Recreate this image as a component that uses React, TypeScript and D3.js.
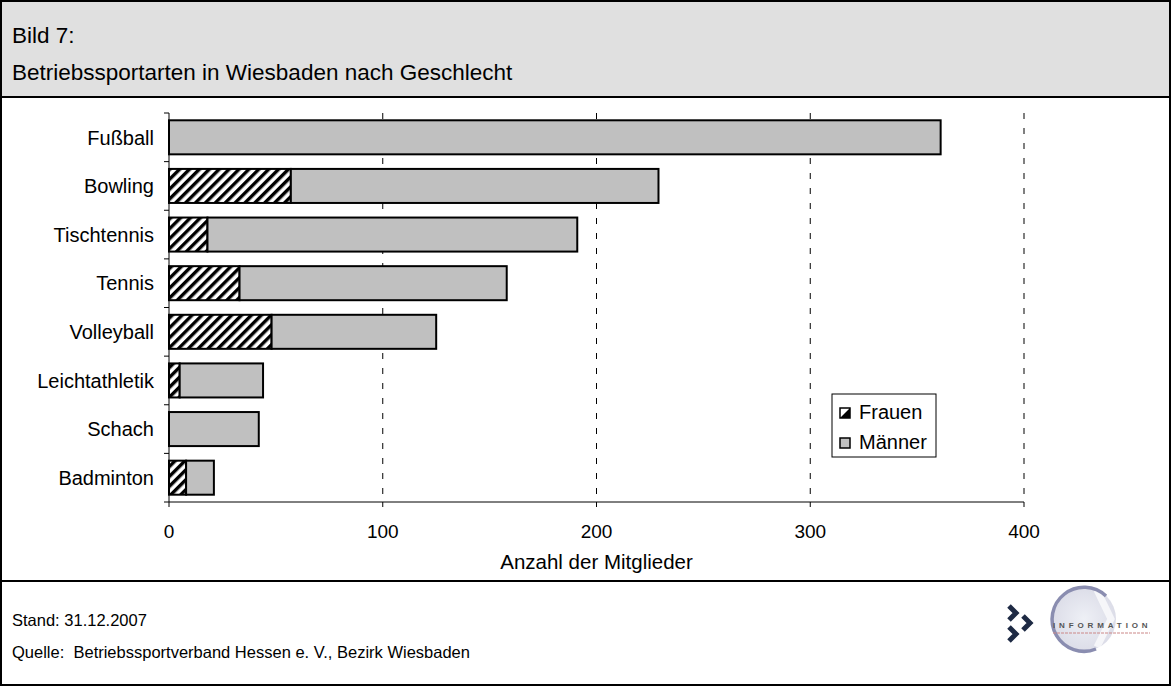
import React from "react";
import * as d3 from "d3";

const categories = ["Fußball", "Bowling", "Tischtennis", "Tennis", "Volleyball", "Leichtathletik", "Schach", "Badminton"];
const frauen = [0, 57, 18, 33, 48, 5, 0, 8];
const maenner = [361, 172, 173, 125, 77, 39, 42, 13];
const xTicks = [0, 100, 200, 300, 400];
const seriesNames = ["Frauen", "Männer"];
const titleLines = ["Bild 7:", "Betriebssportarten in Wiesbaden nach Geschlecht"];
const xAxisTitle = "Anzahl der Mitglieder";
const footerLines = ["Stand: 31.12.2007", "Quelle:  Betriebssportverband Hessen e. V., Bezirk Wiesbaden"];

const W = 1171;
const H = 686;
const FONT = "'Liberation Sans', Arial, Helvetica, sans-serif";

export default function App() {
  const x = d3.scaleLinear().domain([0, 400]).range([169, 1024]);
  const y = d3.scaleBand<string>().domain(categories).range([113, 502]).paddingInner(0.3).paddingOuter(0.15);

  return (
    <svg width={W} height={H} style={{ position: "absolute", left: 0, top: 0, background: "#fff" }} fontFamily={FONT}>
      <defs>
        <pattern id="hatch" patternUnits="userSpaceOnUse" width={7} height={7} patternTransform="rotate(45)">
          <rect width={7} height={7} fill="#fff" />
          <line x1={1.7} y1={0} x2={1.7} y2={7} stroke="#000" strokeWidth={3.4} />
        </pattern>
        <radialGradient id="logoG" cx="50%" cy="50%" r="50%">
          <stop offset="0%" stopColor="#eef0f6" />
          <stop offset="100%" stopColor="#dcdde8" />
        </radialGradient>
      </defs>
      {/* title band */}
      <rect x={1} y={1} width={W - 2} height={96} fill="#e0e0e0" />
      <text x={12} y={43} fontSize={22.5} fill="#000">{titleLines[0]}</text>
      <text x={12} y={80} fontSize={22.5} fill="#000">{titleLines[1]}</text>
      <line x1={0} x2={W} y1={97} y2={97} stroke="#000" strokeWidth={2} />
      <line x1={0} x2={W} y1={581} y2={581} stroke="#000" strokeWidth={2} />
      <rect x={1} y={1} width={W - 2} height={H - 2} fill="none" stroke="#000" strokeWidth={2} />

      {/* gridlines */}
      {xTicks.filter((t) => t > 0).map((t) => (
        <line key={"g" + t} x1={x(t)} x2={x(t)} y1={113} y2={502} stroke="#000" strokeWidth={1} strokeDasharray="6,9" />
      ))}

      {/* bars */}
      {categories.map((c, i) => {
        const y0 = y(c)!;
        const bh = y.bandwidth();
        return (
          <g key={c}>
            {frauen[i] > 0 && (
              <rect x={x(0)} y={y0} width={x(frauen[i]) - x(0)} height={bh} fill="url(#hatch)" stroke="#000" strokeWidth={2} />
            )}
            <rect x={x(frauen[i])} y={y0} width={x(frauen[i] + maenner[i]) - x(frauen[i])} height={bh} fill="#c0c0c0" stroke="#000" strokeWidth={2} />
          </g>
        );
      })}

      {/* y axis */}
      <line x1={169} x2={169} y1={113} y2={502} stroke="#000" strokeWidth={1} />
      {[...categories.map((c) => y(c)! - (y.step() * y.paddingInner()) / 2), 502].map((v, i) => (
        <line key={"yt" + i} x1={164} x2={169} y1={v} y2={v} stroke="#000" strokeWidth={1} />
      ))}
      {categories.map((c) => (
        <text key={"yl" + c} x={154} y={y(c)! + y.bandwidth() / 2} dy="0.36em" textAnchor="end" fontSize={20} fill="#000">{c}</text>
      ))}

      {/* x axis */}
      <line x1={169} x2={1024} y1={502} y2={502} stroke="#000" strokeWidth={1} />
      {xTicks.map((t) => (
        <g key={"xt" + t}>
          <line x1={x(t)} x2={x(t)} y1={502} y2={507} stroke="#000" strokeWidth={1} />
          <text x={x(t)} y={538} textAnchor="middle" fontSize={19} fill="#000">{t}</text>
        </g>
      ))}
      <text x={x(200)} y={569} textAnchor="middle" fontSize={20.5} fill="#000">{xAxisTitle}</text>

      {/* legend */}
      <rect x={832} y={394} width={104} height={63} fill="#fff" stroke="#000" strokeWidth={1} />
      <rect x={840} y={408} width={10} height={10} fill="#fff" stroke="#000" strokeWidth={1.5} />
      <path d="M840,418 L850,408 L850,418 Z" fill="#000" />
      <text x={859} y={419} fontSize={20} fill="#000">{seriesNames[0]}</text>
      <rect x={840} y={438} width={10} height={10} fill="#c0c0c0" stroke="#000" strokeWidth={1.5} />
      <text x={859} y={449} fontSize={20} fill="#000">{seriesNames[1]}</text>

      {/* footer */}
      <text x={12} y={626} fontSize={16.5} fill="#000">{footerLines[0]}</text>
      <text x={12} y={658} fontSize={16.5} fill="#000" style={{ whiteSpace: "pre" }}>{footerLines[1]}</text>

      {/* logo */}
      <g>
        <circle cx={1084} cy={619} r={32} fill="url(#logoG)" />
        <path d="M1097,590 L1111,619 L1097,647" fill="none" stroke="#fff" strokeWidth={7} opacity={0.7} />
        <path d="M1106,596 A32,32 0 1,0 1096,649" fill="none" stroke="#8a8db0" strokeWidth={3.5} />
        <path d="M1009,606 L1016,613 L1009,620" fill="none" stroke="#1e2a44" strokeWidth={5} />
        <path d="M1023,616 L1030,623 L1023,630" fill="none" stroke="#1e2a44" strokeWidth={5} />
        <path d="M1009,627 L1016,634 L1009,641" fill="none" stroke="#1e2a44" strokeWidth={5} />
        <text x={1053} y={628} fontSize={8} letterSpacing={2.4} fill="#555" fontWeight="bold" textLength={97} lengthAdjust="spacing">INFORMATION</text>
        <line x1={1053} x2={1150} y1={633} y2={633} stroke="#c88" strokeWidth={1.2} strokeDasharray="3,1" />
      </g>
    </svg>
  );
}
